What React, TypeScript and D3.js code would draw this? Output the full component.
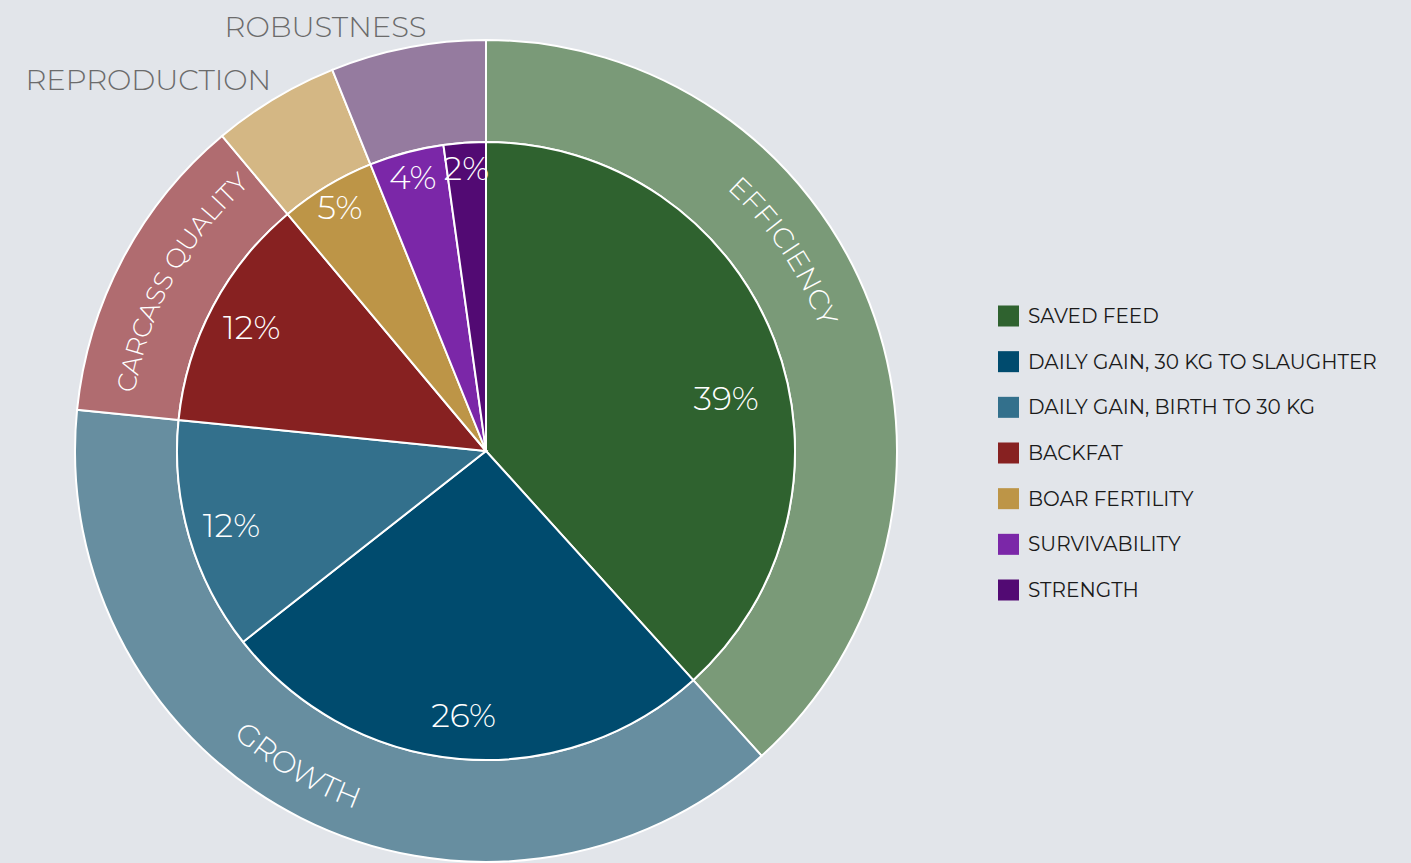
import React from 'react';
import * as d3 from 'd3';

// traits (inner ring), in drawing order from 12 o'clock clockwise
const traits = [
  'SAVED FEED',
  'DAILY GAIN, 30 KG TO SLAUGHTER',
  'DAILY GAIN, BIRTH TO 30 KG',
  'BACKFAT',
  'BOAR FERTILITY',
  'SURVIVABILITY',
  'STRENGTH',
];
const traitShares = [38.3, 26.1, 12.2, 12.3, 5.0, 3.9, 2.2];
const traitLabels = ['39%', '26%', '12%', '12%', '5%', '4%', '2%'];
const traitGroup = [
  'EFFICIENCY',
  'GROWTH',
  'GROWTH',
  'CARCASS QUALITY',
  'REPRODUCTION',
  'ROBUSTNESS',
  'ROBUSTNESS',
];
const traitColors = ['#2f622f', '#004b6e', '#33708c', '#872121', '#bd9547', '#7b27a8', '#520a73'];

const groupColors: Record<string, string> = {
  EFFICIENCY: '#7a9a78',
  GROWTH: '#678ea0',
  'CARCASS QUALITY': '#b06c70',
  REPRODUCTION: '#d4b784',
  ROBUSTNESS: '#957b9f',
};

const W = 1411;
const H = 863;
const CX = 486;
const CY = 451;
const R_INNER = 309;
const R_OUTER = 411;
const FONT = "Montserrat, Inter, 'Open Sans', sans-serif";
const BG = '#e2e5ea';

// group labels drawn along the ring (shift in degrees from the slice middle)
const ringLabels: Record<string, { shift: number; r: number; flip: boolean; size: number }> = {
  EFFICIENCY: { shift: -12.8, r: 356, flip: false, size: 28 },
  GROWTH: { shift: 4.0, r: 381, flip: true, size: 30 },
  'CARCASS QUALITY': { shift: 1, r: 356, flip: false, size: 26 },
};
// group labels set outside the ring
const outsideLabels: Record<string, { shift: number; r: number }> = {
  REPRODUCTION: { shift: 0.2, r: 420 },
  ROBUSTNESS: { shift: 2.8, r: 418 },
};

const toRad = (deg: number) => (deg * Math.PI) / 180;
const pt = (r: number, a: number): [number, number] => [r * Math.sin(a), -r * Math.cos(a)];

function arcPath(r: number, a0: number, a1: number) {
  const [x0, y0] = pt(r, a0);
  const [x1, y1] = pt(r, a1);
  const sweep = a1 > a0 ? 1 : 0;
  return `M${x0},${y0}A${r},${r} 0 0 ${sweep} ${x1},${y1}`;
}

const App: React.FC = () => {
  const pie = d3.pie<number>().sort(null).value((d) => d);
  const inner = pie(traitShares);

  const grouped = d3.rollups(
    traitShares.map((v, i) => ({ v, g: traitGroup[i] })),
    (vs) => d3.sum(vs, (d) => d.v),
    (d) => d.g
  );
  const groupNames = grouped.map((d) => d[0]);
  const outer = pie(grouped.map((d) => d[1]));

  const innerArc = d3.arc<d3.PieArcDatum<number>>().innerRadius(0).outerRadius(R_INNER);
  const outerArc = d3.arc<d3.PieArcDatum<number>>().innerRadius(R_INNER).outerRadius(R_OUTER);

  const legendY = d3.scalePoint<string>().domain(traits).range([316, 590]);

  return (
    <svg width={W} height={H} style={{ position: 'absolute', left: 0, top: 0, background: BG }}>
      <rect width={W} height={H} fill={BG} />
      <g transform={`translate(${CX},${CY})`}>
        {outer.map((d, i) => (
          <path
            key={'o' + i}
            d={outerArc(d) || ''}
            fill={groupColors[groupNames[i]]}
            stroke="#fff"
            strokeWidth={2}
          />
        ))}
        {inner.map((d, i) => (
          <path
            key={'i' + i}
            d={innerArc(d) || ''}
            fill={traitColors[i]}
            stroke="#fff"
            strokeWidth={2}
          />
        ))}

        {inner.map((d, i) => {
          let a = (d.startAngle + d.endAngle) / 2;
          let r = traitShares[i] < 8 ? 284 : 265;
          if (i === 0) {
            // the big slice keeps its label lower, toward the legend
            a += toRad(8.5);
            r = 246;
          }
          const [x, y] = pt(r, a);
          return (
            <text
              key={'l' + i}
              x={x}
              y={y}
              textAnchor="middle"
              dominantBaseline="central"
              fill="#fff"
              fontFamily={FONT}
              fontWeight={300}
              fontSize={33}
            >
              {traitLabels[i]}
            </text>
          );
        })}

        <defs>
          {outer.map((d, i) => {
            const cfg = ringLabels[groupNames[i]];
            if (!cfg) return null;
            const mid = (d.startAngle + d.endAngle) / 2 + toRad(cfg.shift);
            const span = toRad(60);
            const p = cfg.flip ? arcPath(cfg.r, mid + span, mid - span) : arcPath(cfg.r, mid - span, mid + span);
            return <path key={'p' + i} id={'ring-label-' + i} d={p} />;
          })}
        </defs>

        {outer.map((d, i) => {
          const name = groupNames[i];
          const cfg = ringLabels[name];
          if (cfg) {
            return (
              <text
                key={'g' + i}
                fill="#fff"
                fontFamily={FONT}
                fontWeight={300}
                fontSize={cfg.size}
              >
                <textPath href={'#ring-label-' + i} startOffset="50%" textAnchor="middle">
                  {name}
                </textPath>
              </text>
            );
          }
          const o = outsideLabels[name];
          const a = (d.startAngle + d.endAngle) / 2 + toRad(o.shift);
          const [x, y] = pt(o.r, a);
          return (
            <text
              key={'g' + i}
              x={x}
              y={y}
              textAnchor="end"
              fill="#6b6b6b"
              fontFamily={FONT}
              fontWeight={300}
              fontSize={29}
            >
              {name}
            </text>
          );
        })}
      </g>

      <g>
        {traits.map((t, i) => (
          <g key={t} transform={`translate(998,${legendY(t)})`}>
            <rect x={0} y={-10.5} width={21} height={21} fill={traitColors[i]} />
            <text
              x={30}
              y={0}
              dominantBaseline="central"
              fill="#1a1a1a"
              fontFamily={FONT}
              fontWeight={400}
              fontSize={20}
            >
              {t}
            </text>
          </g>
        ))}
      </g>
    </svg>
  );
};

export default App;
